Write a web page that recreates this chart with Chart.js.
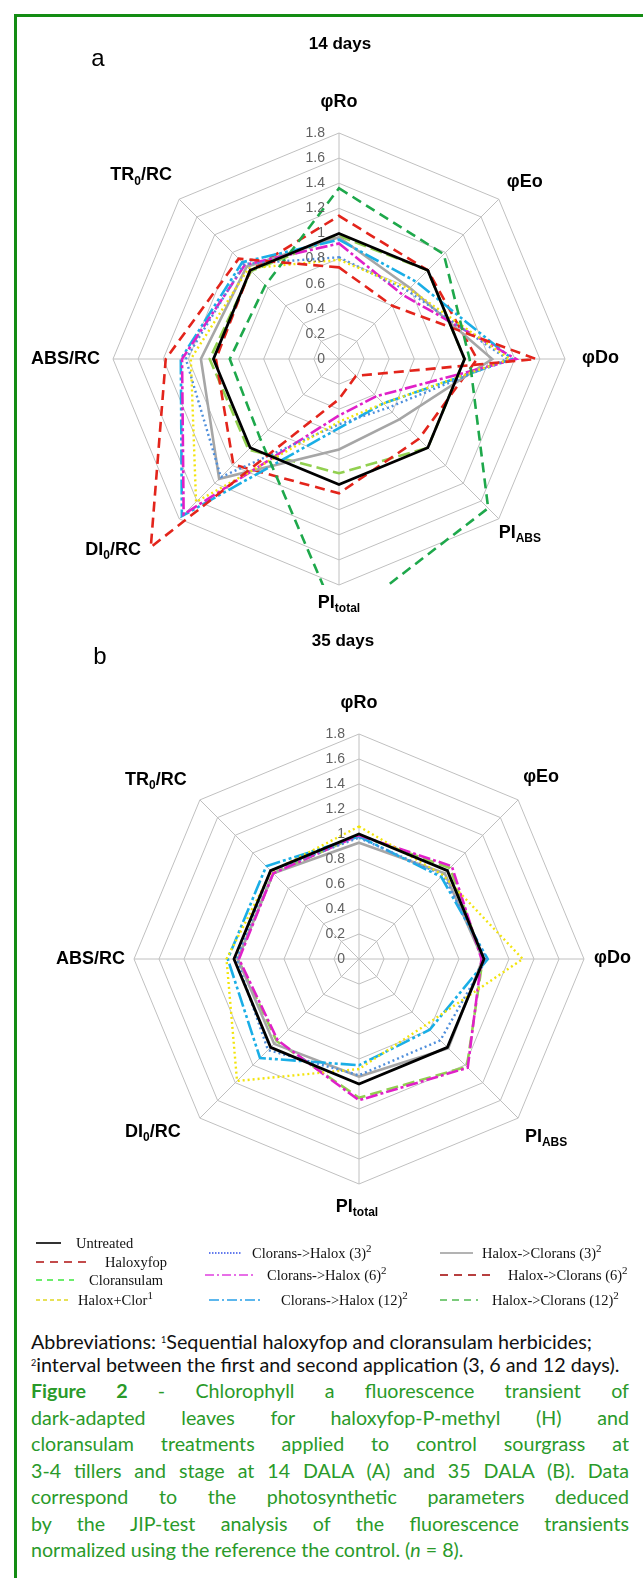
<!DOCTYPE html>
<html>
<head>
<meta charset="utf-8">
<script src="https://cdn.jsdelivr.net/npm/chart.js@4.4.0/dist/chart.umd.min.js"></script>
<style>
  body { margin: 0; background: #fff; }
  #page { position: relative; width: 643px; height: 1578px; overflow: hidden; background: #fff;
          font-family: "Liberation Sans", Arial, sans-serif; }
  #frame { position: absolute; left: 14px; top: 14px; width: 700px; height: 1700px;
           border-top: 3px solid #138c13; border-left: 3px solid #138c13; }
  canvas { position: absolute; left: 0; }
  .t { position: absolute; transform: translate(-50%, -50%); white-space: nowrap; }
  .leg { position: absolute; font-family: "Liberation Serif", "Times New Roman", serif; font-size: 14.5px;
         white-space: nowrap; transform: translateY(-50%); color: #111; }
  .leg sup { font-size: 11px; vertical-align: 6px; line-height: 0; }
  .legline { position: absolute; }
  #abbr { position: absolute; left: 31px; top: 1330px; width: 605px; font-family: Lato, sans-serif;
          line-height: 23px; color: #111; white-space: nowrap; }
  #abbr sup { font-size: 9px; vertical-align: 6px; line-height: 0; }
  #caption { position: absolute; left: 31px; top: 1378px; width: 598px; font-family: Lato, sans-serif;
             line-height: 26.5px; color: #2a9a2a; }
  #caption div { text-align: justify; text-align-last: justify; }
  #caption div.last { text-align-last: left; }
</style>
</head>
<body>
<div id="page">
  <div id="frame"></div>
  <canvas id="chartA" width="643" height="640" style="top:0"></canvas>
  <canvas id="chartB" width="643" height="620" style="top:640px"></canvas>

  <div class="t" style="left:98px;top:58px;font-size:24px;">a</div>
  <div class="t" style="left:340px;top:44px;font-size:17px;font-weight:bold;">14 days</div>
  <div class="t" style="left:100px;top:656px;font-size:24px;">b</div>
  <div class="t" style="left:343px;top:641px;font-size:17px;font-weight:bold;">35 days</div>

  <div id="legend"></div>

  <div id="abbr">
    <div>Abbreviations: <sup>1</sup>Sequential haloxyfop and cloransulam herbicides;</div>
    <div id="abbr2"><sup>2</sup>interval between the first and second application (3, 6 and 12 days).</div>
  </div>
  <div id="caption">
    <div><b>Figure 2</b> - Chlorophyll a fluorescence transient of</div>
    <div>dark-adapted leaves for haloxyfop-P-methyl (H) and</div>
    <div>cloransulam treatments applied to control sourgrass at</div>
    <div id="capFit">3-4 tillers and stage at 14 DALA (A) and 35 DALA (B). Data</div>
    <div>correspond to the photosynthetic parameters deduced</div>
    <div>by the JIP-test analysis of the fluorescence transients</div>
    <div class="last">normalized using the reference the control. (<i>n</i> = 8).</div>
  </div>
</div>

<script>
// axes of the radar (sub-script parts written as _{..})
const axisLabels = ['φRo', 'φEo', 'φDo', 'PI_{ABS}', 'PI_{total}', 'DI_{0}/RC', 'ABS/RC', 'TR_{0}/RC'];

const seriesNames = ['Untreated', 'Haloxyfop', 'Cloransulam', 'Halox+Clor', 'Clorans->Halox (3)',
  'Clorans->Halox (6)', 'Clorans->Halox (12)', 'Halox->Clorans (3)', 'Halox->Clorans (6)', 'Halox->Clorans (12)'];

// 14 days (values normalized to the control)
const untreated14       = [1, 1, 1, 1, 1, 1, 1, 1];
const haloxyfop14       = [0.73, 0.6, 1.57, 0.19, 0.32, 2.12, 1.38, 1.13];
const cloransulam14     = [1.36, 1.18, 1.04, 1.68, 2.1, 0.89, 0.87, 0.83];
const haloxClor14       = [0.79, 0.79, 1.36, 0.5, 0.5, 1.61, 1.18, 1.02];
const cloransHalox3_14  = [0.81, 0.77, 1.34, 0.55, 0.52, 1.33, 1.22, 1.07];
const cloransHalox6_14  = [0.92, 0.72, 1.41, 0.42, 0.45, 1.75, 1.25, 1.06];
const cloransHalox12_14 = [0.95, 0.87, 1.38, 0.5, 0.55, 1.77, 1.26, 1.09];
const haloxClorans3_14  = [0.97, 0.8, 1.22, 0.68, 0.72, 1.35, 1.1, 1.04];
const haloxClorans6_14  = [1.14, 1.0, 1.1, 0.9, 1.07, 1.19, 0.98, 1.0];
const haloxClorans12_14 = [0.98, 1.0, 1.0, 1.0, 0.91, 1.02, 1.03, 0.99];

// 35 days (no data for Haloxyfop, Cloransulam and Halox->Clorans (6))
const untreated35       = [1, 1, 1, 1, 1, 1, 1, 1];
const haloxyfop35       = null;
const cloransulam35     = null;
const haloxClor35       = [1.06, 0.95, 1.31, 0.75, 0.88, 1.38, 1.06, 0.99];
const cloransHalox3_35  = [0.97, 0.95, 1.02, 0.92, 0.93, 1.03, 0.98, 1.0];
const cloransHalox6_35  = [0.99, 1.05, 0.98, 1.23, 1.13, 0.92, 0.96, 0.97];
const cloransHalox12_35 = [0.98, 0.93, 1.03, 0.8, 0.85, 1.12, 1.05, 1.05];
const haloxClorans3_35  = [0.93, 0.97, 0.99, 1.01, 0.94, 0.96, 0.97, 0.97];
const haloxClorans6_35  = null;
const haloxClorans12_35 = [0.99, 1.03, 0.99, 1.22, 1.11, 0.93, 0.97, 0.97];

const values14 = [untreated14, haloxyfop14, cloransulam14, haloxClor14, cloransHalox3_14,
  cloransHalox6_14, cloransHalox12_14, haloxClorans3_14, haloxClorans6_14, haloxClorans12_14];
const values35 = [untreated35, haloxyfop35, cloransulam35, haloxClor35, cloransHalox3_35,
  cloransHalox6_35, cloransHalox12_35, haloxClorans3_35, haloxClorans6_35, haloxClorans12_35];

// line look of every series (chart) and the slightly different legend swatches
const seriesStyle = [
  { color: '#000000', width: 2.8, dash: [] },
  { color: '#e3241b', width: 2.6, dash: [10, 6] },
  { color: '#1ea84b', width: 2.6, dash: [10, 6] },
  { color: '#f2e40c', width: 2.4, dash: [2, 3] },
  { color: '#4f8fdc', width: 2.4, dash: [2, 3] },
  { color: '#e020c8', width: 2.6, dash: [12, 3, 3, 3] },
  { color: '#1aaee6', width: 2.6, dash: [15, 3, 3, 3, 3, 3] },
  { color: '#a6a6a6', width: 2.6, dash: [] },
  { color: '#e3241b', width: 2.6, dash: [10, 6] },
  { color: '#92d050', width: 2.6, dash: [12, 5] }
];
const legendColor = ['#000000', '#b01010', '#3ce83c', '#e0d820', '#3050e8', '#e040e0',
  '#28a0e8', '#9a9a9a', '#a00000', '#50bb50'];
const legendDash = [[], [8, 6], [6, 5], [4, 3], [1.5, 1.5], [9, 3, 2, 3], [10, 3, 2, 3], [], [8, 6], [7, 5]];

function makeSets(values) {
  const sets = [];
  values.forEach((v, i) => {
    if (!v) return;
    sets.push({
      label: seriesNames[i],
      data: v,
      borderColor: seriesStyle[i].color,
      borderWidth: seriesStyle[i].width,
      borderDash: seriesStyle[i].dash,
      backgroundColor: 'transparent',
      fill: false,
      pointRadius: 0,
      pointHoverRadius: 0,
      clip: 0
    });
  });
  return sets;
}

function drawRich(ctx, str, x, y, align) {
  const parts = [];
  const re = /_\{([^}]*)\}/g;
  let last = 0, m;
  while ((m = re.exec(str)) !== null) {
    if (m.index > last) parts.push({ t: str.slice(last, m.index), sub: false });
    parts.push({ t: m[1], sub: true });
    last = re.lastIndex;
  }
  if (last < str.length) parts.push({ t: str.slice(last), sub: false });
  const mainFont = 'bold 18px "Liberation Sans", Arial, sans-serif';
  const subFont = 'bold 12px "Liberation Sans", Arial, sans-serif';
  let total = 0;
  parts.forEach(p => { ctx.font = p.sub ? subFont : mainFont; p.w = ctx.measureText(p.t).width; total += p.w; });
  let cx = align === 'left' ? x : align === 'right' ? x - total : x - total / 2;
  ctx.textAlign = 'left';
  ctx.textBaseline = 'middle';
  parts.forEach(p => {
    ctx.font = p.sub ? subFont : mainFont;
    ctx.fillText(p.t, cx, p.sub ? y + 6 : y);
    cx += p.w;
  });
}

// tick labels left of the vertical axis and the axis names
const radarText = {
  id: 'radarText',
  afterDatasetsDraw(chart, args, opts) {
    const r = chart.scales.r;
    const ctx = chart.ctx;
    ctx.save();
    ctx.font = '14px "Liberation Sans", Arial, sans-serif';
    ctx.fillStyle = '#606060';
    ctx.textAlign = 'right';
    ctx.textBaseline = 'middle';
    r.ticks.forEach(t => {
      const p = r.getPointPositionForValue(0, t.value);
      ctx.fillText(String(+t.value.toFixed(1)), p.x - 14, p.y);
    });
    ctx.fillStyle = '#000';
    chart.data.labels.forEach((lab, i) => {
      const v = r.getPointPosition(i, r.drawingArea);
      const o = opts.offsets[i];
      drawRich(ctx, lab, v.x + o[0], v.y + o[1], o[2]);
    });
    ctx.restore();
  }
};

function radarChart(id, values, pad, offsets) {
  return new Chart(document.getElementById(id), {
    type: 'radar',
    data: { labels: axisLabels, datasets: makeSets(values) },
    options: {
      responsive: false,
      animation: false,
      devicePixelRatio: 1,
      layout: { padding: pad },
      plugins: { legend: { display: false }, tooltip: { enabled: false }, radarText: { offsets: offsets } },
      elements: { line: { tension: 0 } },
      scales: {
        r: {
          min: 0, max: 1.8,
          ticks: { stepSize: 0.2, display: false },
          grid: { color: '#c0c0c0', lineWidth: 1 },
          angleLines: { color: '#c0c0c0', lineWidth: 1 },
          pointLabels: { display: false }
        }
      }
    },
    plugins: [radarText]
  });
}

radarChart('chartA', values14, { left: 113, right: 78, top: 133, bottom: 55 }, [
  [0, -31, 'center'], [26, -17, 'center'], [17, -1, 'left'], [21, 14, 'center'],
  [0, 18, 'center'], [-66, 31, 'center'], [-13, 0, 'right'], [-38, -24, 'center']
]);
radarChart('chartB', values35, { left: 134, right: 59, top: 94, bottom: 76 }, [
  [0, -31, 'center'], [23, -23, 'center'], [10, -1, 'left'], [28, 19, 'center'],
  [-2, 23, 'center'], [-47, 14, 'center'], [-9, 0, 'right'], [-44, -20, 'center']
]);

// legend, three loose columns like the original
const legendPlace = [
  [36, 25, 1243, 76], [36, 50, 1262, 105], [36, 38, 1280, 89], [36, 34, 1300, 78],
  [209, 33, 1253, 252], [205, 49, 1275, 267], [209, 53, 1300, 281],
  [440, 33, 1253, 482], [440, 50, 1275, 508], [440, 38, 1300, 492]
];
const legendMarks = ['', '', '', '1', '2', '2', '2', '2', '2', '2'];
const legend = document.getElementById('legend');
seriesNames.forEach((name, i) => {
  const [x, len, y, tx] = legendPlace[i];
  const svg = document.createElementNS('http://www.w3.org/2000/svg', 'svg');
  svg.setAttribute('class', 'legline');
  svg.setAttribute('width', len);
  svg.setAttribute('height', 6);
  svg.style.left = x + 'px';
  svg.style.top = (y - 3) + 'px';
  const ln = document.createElementNS('http://www.w3.org/2000/svg', 'line');
  ln.setAttribute('x1', 0); ln.setAttribute('x2', len);
  ln.setAttribute('y1', 3); ln.setAttribute('y2', 3);
  ln.setAttribute('stroke', legendColor[i]);
  ln.setAttribute('stroke-width', i === 0 ? 1.6 : 1.3);
  if (legendDash[i].length) ln.setAttribute('stroke-dasharray', legendDash[i].join(' '));
  svg.appendChild(ln);
  legend.appendChild(svg);
  const d = document.createElement('div');
  d.className = 'leg';
  d.style.left = tx + 'px';
  d.style.top = y + 'px';
  d.innerHTML = name.replace(/>/g, '&gt;') + (legendMarks[i] ? '<sup>' + legendMarks[i] + '</sup>' : '');
  legend.appendChild(d);
});

// fit the text blocks to the width of the original
function fitFont(el, target, base) {
  el.style.fontSize = base + 'px';
  const probe = document.createElement('span');
  probe.style.whiteSpace = 'nowrap';
  probe.innerHTML = el.innerHTML;
  el.innerHTML = '';
  el.appendChild(probe);
  const w = probe.getBoundingClientRect().width;
  el.innerHTML = probe.innerHTML;
  return base * target / w;
}
const abbr = document.getElementById('abbr');
abbr.style.fontSize = fitFont(document.getElementById('abbr2'), 590, 16) + 'px';
document.getElementById('abbr2').style.fontSize = '';
const cap = document.getElementById('caption');
cap.style.fontSize = (fitFont(document.getElementById('capFit'), 588, 20)) + 'px';
document.getElementById('capFit').style.fontSize = '';
</script>
</body>
</html>
